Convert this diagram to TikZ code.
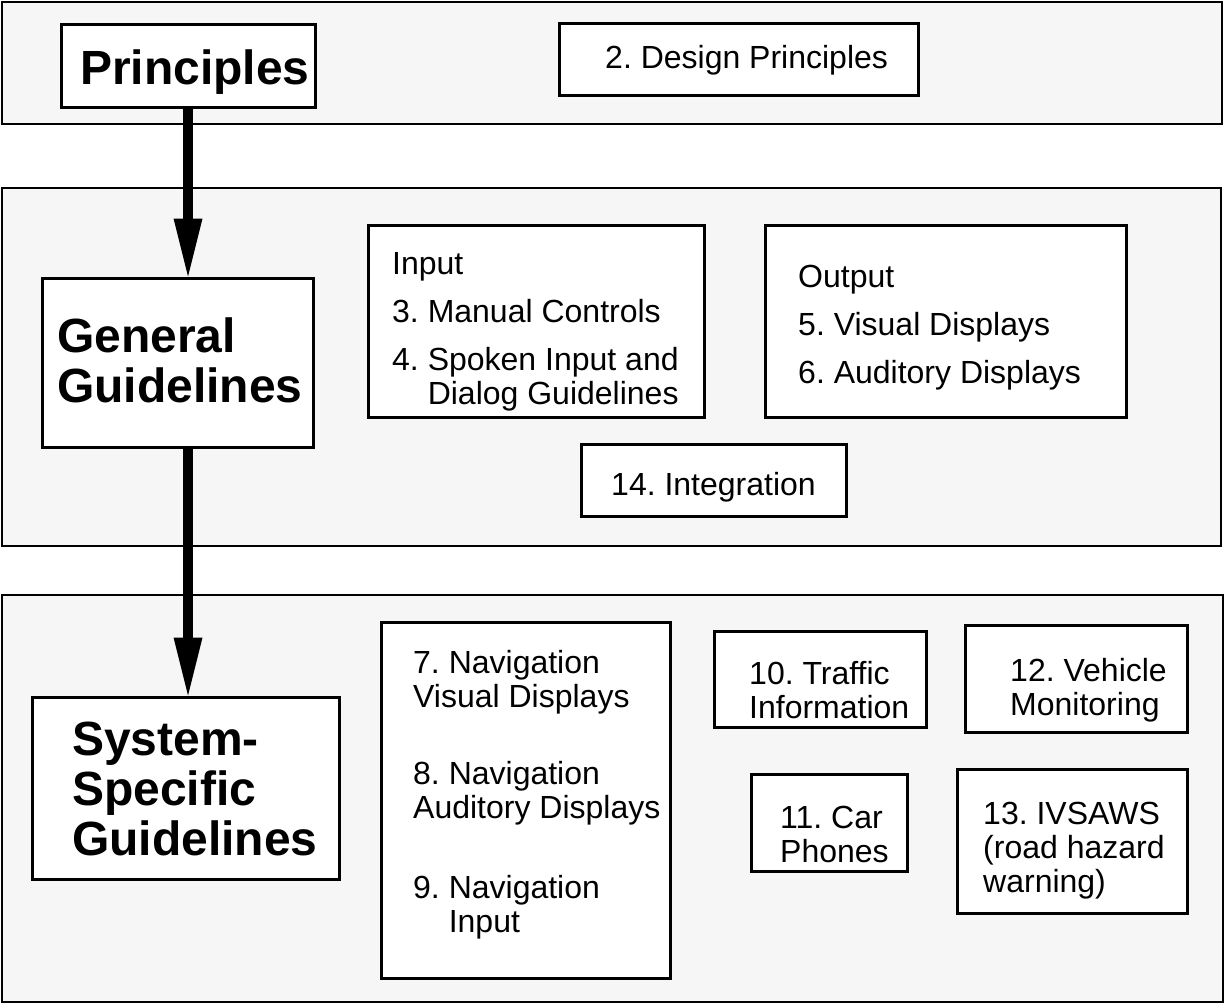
\documentclass[tikz,border=0pt]{standalone}
\usepackage{fontspec}
\setmainfont{Liberation Sans}
\usepackage{xcolor}
\usetikzlibrary{arrows.meta}
\usetikzlibrary{positioning,fit}
\definecolor{panelgray}{HTML}{F6F6F6}
\frenchspacing

\begin{document}
\begin{tikzpicture}[x=1pt,y=-1pt,
    panel/.style={draw=black,line width=2.5pt,fill=panelgray,inner sep=0pt},
    box/.style={draw=black,line width=3pt,fill=white,inner sep=0pt},
    txt/.style={font=\fontsize{32}{34}\selectfont,align=left,inner sep=0pt,anchor=base west},
    head/.style={font=\fontsize{48}{50}\selectfont\bfseries,align=left,inner sep=0pt,anchor=base west},
    flow/.style={line width=10pt,-{Triangle[width=29pt,length=58pt,line width=0pt]}}]
        \useasboundingbox (0,0) rectangle (1225,1003);
        % three levels
        \node[panel,fit={(2,2) (1222,124)}] (toppanel) {};
        \node[panel,fit={(2,188) (1221,546)}] (midpanel) {};
        \node[panel,fit={(2,595) (1223,1002)}] (botpanel) {};
        % principles (labels sit on the baseline of their last line)
        \node[box,fit={(61,25) (315,108)}] (prin) {};
        \node[head] (prinlbl) at (80,85) {Principles};
        \node[box,fit={(559,24) (918,96)}] (design) {};
        \node[txt] (designlbl) at (605,69) {2. Design Principles};
        % general guidelines
        \node[box,fit={(42,278) (313,447)}] (gen) {};
        \node[head] (genlbl) at (57,402) {General\\Guidelines};
        \node[box,fit={(368,225) (704,417)}] (input) {};
        \node[txt] (inputlbl) at (392,404)
            {Input\\[14pt]3. Manual Controls\\[14pt]4. Spoken Input and\\\phantom{4. }Dialog Guidelines};
        \node[box,fit={(765,225) (1126,417)}] (output) {};
        \node[txt] (outputlbl) at (798,383)
            {Output\\[14pt]5. Visual Displays\\[14pt]6. Auditory Displays};
        \node[box,fit={(581,444) (846,516)}] (integ) {};
        \node[txt] (integlbl) at (611,495) {14. Integration};
        % system-specific guidelines
        \node[box,fit={(32,697) (339,879)}] (ssg) {};
        \node[head] (ssglbl) at (72,855) {System-\\Specific\\Guidelines};
        \node[box,fit={(381,622) (670,978)}] (nav) {};
        \node[txt] (navlbl) at (413,932)
            {7. Navigation\\Visual Displays\\[43pt]8. Navigation\\Auditory Displays\\[46pt]9. Navigation\\\phantom{9. }Input};
        \node[box,fit={(714,631) (926,727)}] (traffic) {};
        \node[txt] (trafficlbl) at (749,718) {10. Traffic\\Information};
        \node[box,fit={(751,774) (907,871)}] (phones) {};
        \node[txt] (phoneslbl) at (780,862) {11. Car\\Phones};
        \node[box,fit={(965,625) (1187,732)}] (vehicle) {};
        \node[txt] (vehiclelbl) at (1010,715) {12. Vehicle\\Monitoring};
        \node[box,fit={(957,769) (1187,913)}] (ivsaws) {};
        \node[txt] (ivsawslbl) at (983,892) {13. IVSAWS\\(road hazard\\warning)};
        % flow between levels
        \draw[flow] (prin.south) -- (prin.south |- gen.north);
        \draw[flow] (prin.south |- gen.south) -- (prin.south |- ssg.north);
    \end{tikzpicture}
\end{document}
